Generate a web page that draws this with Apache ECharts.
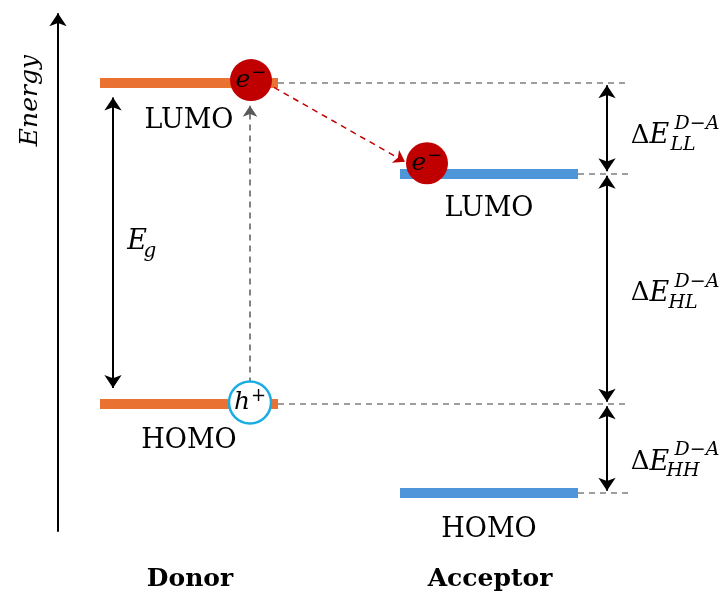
<!DOCTYPE html>
<html>
<head>
<meta charset="utf-8">
<script src="https://cdn.jsdelivr.net/npm/echarts@6/dist/echarts.min.js"></script>
<style>
  html, body { margin: 0; padding: 0; background: #fff; }
  #chart { width: 725px; height: 596px; }
</style>
</head>
<body>
<div id="chart"></div>
<script>
// energy levels (eV, arbitrary reference)
const groups = ['Donor', 'Acceptor'];
const levelNames = ['LUMO', 'HOMO'];
const donorLevels = [-3.50, -5.70];
const acceptorLevels = [-4.12, -6.31];
const offsetNames = ['LL', 'HL', 'HH'];

// layout
const SERIF = '"DejaVu Serif", "Liberation Serif", serif';
const yMin = -7.016, yMax = -2.931;
const donorX = [100, 278], acceptorX = [400, 578];
const guideEnd = 628, offsetX = 607;
const orange = '#E97132', blue = '#4E95D9', red = '#C00000', grey = '#7F7F7F';
const ink = '#000';

const [dL, dH] = donorLevels;
const [aL, aH] = acceptorLevels;

// level bars
const bars = [
  { coords: [[donorX[0], dL], [donorX[1], dL]], lineStyle: { color: orange } },
  { coords: [[donorX[0], dH], [donorX[1], dH]], lineStyle: { color: orange } },
  { coords: [[acceptorX[0], aL], [acceptorX[1], aL]], lineStyle: { color: blue } },
  { coords: [[acceptorX[0], aH], [acceptorX[1], aH]], lineStyle: { color: blue } }
];

// dashed guide lines to the offset arrows
const guides = [
  { coords: [[donorX[1], dL], [guideEnd, dL]] },
  { coords: [[acceptorX[1], aL], [guideEnd, aL]] },
  { coords: [[donorX[1], dH], [guideEnd, dH]] },
  { coords: [[acceptorX[1], aH], [guideEnd, aH]] }
];

// band offsets between levels
const offsetPairs = [[dL, aL], [aL, dH], [dH, aH]];
const gap = 0.015;
const offsetArrows = offsetPairs.map(([top, bot]) => ({
  coords: [[offsetX, top - gap], [offsetX, bot + gap]]
}));

const textItem = (x, y, text, style, offset) => ({
  value: [x, y],
  label: Object.assign({ show: true, position: 'inside', formatter: text, offset: offset || [0, 0],
    fontFamily: SERIF, color: ink }, style)
});

const mathRich = {
  u: { fontFamily: SERIF, fontSize: 26, color: ink },
  i: { fontFamily: SERIF, fontStyle: 'italic', fontSize: 27, color: ink }
};

const labels = [
  textItem(30, dL - 0.12, 'Energy', { fontSize: 25, fontStyle: 'italic', rotate: 90 }),
  textItem((donorX[0] + donorX[1]) / 2, dL, levelNames[0], { fontSize: 27 }, [0, 38]),
  textItem((donorX[0] + donorX[1]) / 2, dH, levelNames[1], { fontSize: 27 }, [0, 37]),
  textItem((acceptorX[0] + acceptorX[1]) / 2, aL, levelNames[0], { fontSize: 27 }, [0, 36]),
  textItem((acceptorX[0] + acceptorX[1]) / 2, aH, levelNames[1], { fontSize: 27 }, [0, 37]),
  textItem(190, yMin + 0.11, groups[0], { fontSize: 25, fontWeight: 'bold' }),
  textItem(490, yMin + 0.11, groups[1], { fontSize: 25, fontWeight: 'bold' }),
  textItem(137, (dL + dH) / 2, '{i|E}', { rich: mathRich }, [0, -2]),
  textItem(150, (dL + dH) / 2, 'g', { fontSize: 20, fontStyle: 'italic' }, [0, 8])
];

const offsetShift = [0, -3, 6];
offsetPairs.forEach(([top, bot], i) => {
  const mid = (top + bot) / 2;
  const dy = offsetShift[i];
  labels.push(textItem(650, mid, '{u|Δ}{i|E}', { rich: mathRich }, [0, dy + 8]));
  labels.push(textItem(697, mid, 'D−A', { fontSize: 19, fontStyle: 'italic' }, [0, dy - 4]));
  labels.push(textItem(683, mid, offsetNames[i], { fontSize: 19, fontStyle: 'italic' }, [0, dy + 17]));
});

const chart = echarts.init(document.getElementById('chart'));
chart.setOption({
  animation: false,
  grid: { left: 0, right: 0, top: 0, bottom: 0 },
  xAxis: { type: 'value', min: 0, max: 725, show: false },
  yAxis: { type: 'value', min: yMin, max: yMax, show: false },
  series: [
    {
      type: 'lines', coordinateSystem: 'cartesian2d', silent: true, z: 1,
      lineStyle: { width: 1.5, type: [6, 5], color: grey, opacity: 1 },
      data: guides
    },
    {
      type: 'lines', coordinateSystem: 'cartesian2d', silent: true, z: 2,
      lineStyle: { width: 10, cap: 'butt', opacity: 1 },
      data: bars
    },
    {
      // black arrows: energy axis, gap, offsets
      type: 'lines', coordinateSystem: 'cartesian2d', silent: true, z: 3,
      symbol: ['arrow', 'arrow'], symbolSize: 13,
      lineStyle: { width: 2, color: '#000', opacity: 1 },
      data: [
        { coords: [[58, yMin + 0.44], [58, yMax - 0.09]], symbol: ['none', 'arrow'] },
        { coords: [[113, dL - 0.1], [113, dH + 0.11]] }
      ].concat(offsetArrows)
    },
    {
      // excitation and charge transfer
      type: 'lines', coordinateSystem: 'cartesian2d', silent: true, z: 3,
      symbol: ['none', 'arrow'], symbolSize: 11,
      lineStyle: { width: 1.5, type: [6, 5], opacity: 1 },
      data: [
        { coords: [[250, dH + 0.14], [250, dL - 0.155]], lineStyle: { color: '#595959' } },
        { coords: [[274, dL - 0.03], [405, aL + 0.08]], lineStyle: { color: red } }
      ]
    },
    {
      // carriers
      type: 'scatter', silent: true, z: 5,
      symbol: 'circle', symbolSize: 42,
      itemStyle: { opacity: 1 },
      label: {
        show: true, position: 'inside', formatter: '{i|{@[2]}}{s|{@[3]}}',
        rich: {
          i: { fontFamily: SERIF, fontStyle: 'italic', fontSize: 25, color: ink },
          s: { fontFamily: SERIF, fontSize: 18, color: ink, padding: [0, 0, 13, 1] }
        }
      },
      data: [
        { value: [251, dL + 0.02, 'e', '−'], itemStyle: { color: red } },
        { value: [427, aL + 0.07, 'e', '−'], itemStyle: { color: red } },
        { value: [250, dH + 0.01, 'h', '+'], itemStyle: { color: '#fff', borderColor: '#1AADE4', borderWidth: 2.5 } }
      ]
    },
    {
      type: 'scatter', silent: true, z: 6, symbolSize: 0,
      itemStyle: { opacity: 1 },
      data: labels
    }
  ]
});
</script>
</body>
</html>
